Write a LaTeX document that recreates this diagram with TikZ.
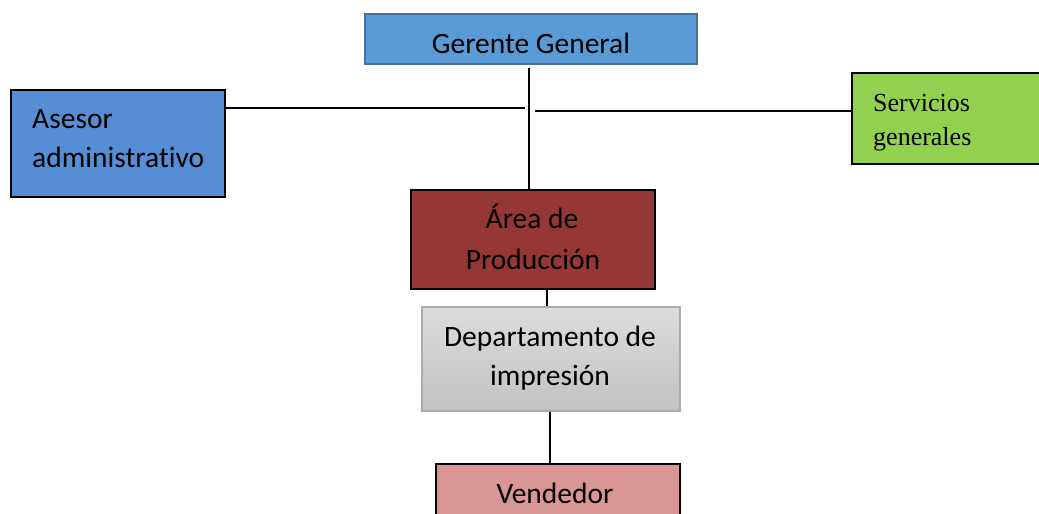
\documentclass[tikz,border=0pt]{standalone}
\usepackage{fontspec}
\setmainfont{Carlito}[Ligatures=NoCommon]
\newfontfamily\tnr{Liberation Serif}
\definecolor{ggfill}{HTML}{5B9BD5}
\definecolor{ggline}{HTML}{41719C}
\definecolor{asfill}{HTML}{558ED5}
\definecolor{svfill}{HTML}{92D050}
\definecolor{apfill}{HTML}{953735}
\definecolor{dptop}{HTML}{DCDCDC}
\definecolor{dpbot}{HTML}{C2C2C2}
\definecolor{dpline}{HTML}{ABABAB}
\definecolor{vdfill}{HTML}{D99694}
\tikzset{
  orgbox/.style={rectangle, draw=black, line width=2pt, inner sep=0pt},
  txt/.style={anchor=base, inner sep=0pt, font=\fontsize{29.5}{34}\selectfont},
  txtl/.style={anchor=base west, inner sep=0pt, font=\fontsize{29.5}{34}\selectfont},
  txtt/.style={anchor=base west, inner sep=0pt, font=\tnr\fontsize{26}{30}\selectfont},
  conn/.style={draw=black, line width=1.2pt}
}
\begin{document}
\begin{tikzpicture}[x=1pt,y=-1pt]
\useasboundingbox (0,0) rectangle (1039,514);
% boxes
\node[orgbox, draw=ggline, fill=ggfill, minimum width=332pt, minimum height=50pt] (gg) at (531,39) {};
\node[orgbox, fill=asfill, minimum width=214pt, minimum height=107pt] (as) at (118,143.5) {};
\node[orgbox, fill=svfill, minimum width=193pt, minimum height=91pt] (sv) at (948.5,118.5) {};
\node[orgbox, fill=apfill, minimum width=244pt, minimum height=99pt] (ap) at (533,239.5) {};
\node[orgbox, draw=dpline, line width=1.2pt, top color=dptop, bottom color=dpbot, minimum width=258pt, minimum height=104pt] (dp) at (551,359) {};
\node[orgbox, fill=vdfill, minimum width=244pt, minimum height=66pt] (vd) at (558,497) {};
% texts
\node[txt] (t1) at (531,53) {Gerente General};
\node[txtl] (t2) at (32,128) {Asesor};
\node[txtl] (t3) at (32,167) {administrativo};
\node[txtt] (t4) at (873,111) {Servicios};
\node[txtt] (t5) at (873,145) {generales};
\node[txt] (t6) at (532,228) {Área de};
\node[txt] (t7) at (533,269) {Producción};
\node[txt] (t8) at (550,346) {Departamento de};
\node[txt] (t9) at (550,385) {impresión};
\node[txt] (t10) at (555,503) {Vendedor};
% connectors
\coordinate (vtop) at (529,68);
\draw[conn] (vtop) -- (vtop |- ap.north);
\coordinate (lend) at (525,108);
\draw[conn] (as.east |- lend) -- (lend);
\coordinate (rend) at (535,111);
\draw[conn] (rend) -- (rend -| sv.west);
\coordinate (m1) at (547,300);
\draw[conn] (ap.south -| m1) -- (dp.north -| m1);
\coordinate (m2) at (550,440);
\draw[conn, line width=2pt] (dp.south -| m2) -- (vd.north -| m2);
\end{tikzpicture}
\end{document}
